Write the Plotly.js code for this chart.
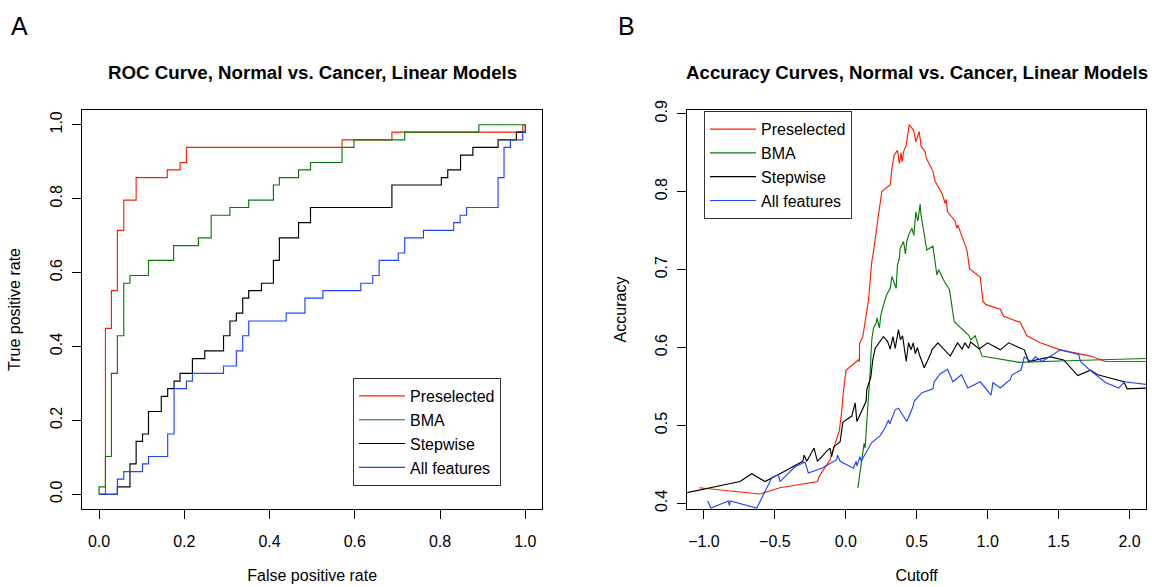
<!DOCTYPE html>
<html>
<head>
<meta charset="utf-8">
<script src="https://cdn.plot.ly/plotly-3.0.1.min.js"></script>
<style>html,body{margin:0;padding:0;background:#fff;}#chart{width:1152px;height:587px;}</style>
</head>
<body>
<div id="chart"></div>
<script>
// ---- Panel A: ROC curves (step points: x = FPR where TPR jumps, y = TPR after jump)
const seriesNames = ["Preselected", "BMA", "Stepwise", "All features"];
const seriesColors = ["#ff1e00", "#0b7a0b", "#000000", "#1f45ff"];

const rocPreX = [0, 0.015, 0.029, 0.043, 0.058, 0.087, 0.160, 0.190, 0.205, 0.570, 0.687, 0.994, 1.0];
const rocPreY = [0, 0.449, 0.551, 0.714, 0.796, 0.857, 0.878, 0.898, 0.939, 0.959, 0.980, 1.0, 1.0];

const rocBmaX = [0, 0, 0.015, 0.029, 0.043, 0.058, 0.0725, 0.116, 0.175, 0.233, 0.263, 0.307, 0.351, 0.409, 0.423, 0.468, 0.496, 0.570, 0.598, 0.717, 0.891, 1.0];
const rocBmaY = [0, 0.020, 0.102, 0.327, 0.429, 0.571, 0.592, 0.633, 0.673, 0.694, 0.755, 0.776, 0.796, 0.837, 0.857, 0.878, 0.898, 0.939, 0.959, 0.980, 1.0, 1.0];

const rocStepX = [0, 0.043, 0.0725, 0.087, 0.102, 0.116, 0.146, 0.161, 0.176, 0.190, 0.219, 0.248, 0.292, 0.307, 0.322, 0.337, 0.351, 0.381, 0.409, 0.423, 0.468, 0.496, 0.687, 0.803, 0.818, 0.848, 0.877, 0.936, 0.979, 1.0];
const rocStepY = [0, 0.020, 0.082, 0.143, 0.163, 0.224, 0.265, 0.286, 0.306, 0.327, 0.367, 0.388, 0.429, 0.469, 0.490, 0.531, 0.551, 0.571, 0.633, 0.694, 0.735, 0.776, 0.837, 0.857, 0.878, 0.918, 0.939, 0.959, 0.980, 1.0];

const rocAllX = [0, 0.043, 0.058, 0.102, 0.116, 0.161, 0.176, 0.205, 0.219, 0.292, 0.322, 0.337, 0.351, 0.439, 0.483, 0.525, 0.614, 0.642, 0.657, 0.702, 0.717, 0.761, 0.832, 0.847, 0.862, 0.936, 0.950, 0.965, 0.994, 1.0];
const rocAllY = [0, 0.041, 0.061, 0.082, 0.102, 0.163, 0.286, 0.306, 0.327, 0.347, 0.388, 0.429, 0.469, 0.490, 0.531, 0.551, 0.571, 0.592, 0.633, 0.653, 0.694, 0.714, 0.735, 0.755, 0.776, 0.857, 0.939, 0.959, 0.980, 1.0];

// ---- Panel B: accuracy vs cutoff
const accPreX = [-1.033, -0.606, -0.464, -0.2, -0.186, -0.111, -0.092, -0.045, -0.028, -0.017, 0.002, 0.089, 0.096, 0.097, 0.12, 0.141, 0.16, 0.183, 0.195, 0.23, 0.254, 0.313, 0.325, 0.341, 0.364, 0.378, 0.39, 0.397, 0.407, 0.426, 0.447, 0.477, 0.494, 0.517, 0.531, 0.56, 0.567, 0.614, 0.63, 0.677, 0.70, 0.707, 0.717, 0.771, 0.783, 0.79, 0.83, 0.854, 0.872, 0.948, 0.967, 0.988, 1.089, 1.112, 1.23, 1.277, 1.371, 1.512, 1.724, 1.83, 2.15];
const accPreY = [0.420, 0.412, 0.420, 0.428, 0.435, 0.456, 0.467, 0.494, 0.520, 0.544, 0.571, 0.584, 0.582, 0.605, 0.614, 0.642, 0.661, 0.710, 0.723, 0.770, 0.800, 0.809, 0.830, 0.847, 0.853, 0.836, 0.850, 0.838, 0.851, 0.860, 0.886, 0.879, 0.864, 0.877, 0.858, 0.851, 0.843, 0.826, 0.813, 0.798, 0.785, 0.790, 0.774, 0.762, 0.753, 0.757, 0.738, 0.725, 0.701, 0.690, 0.659, 0.655, 0.649, 0.640, 0.632, 0.615, 0.606, 0.597, 0.589, 0.582, 0.582];

const accBmaX = [0.085, 0.129, 0.136, 0.153, 0.171, 0.183, 0.195, 0.214, 0.219, 0.237, 0.247, 0.273, 0.289, 0.313, 0.325, 0.355, 0.364, 0.378, 0.383, 0.407, 0.42, 0.43, 0.442, 0.466, 0.48, 0.494, 0.508, 0.524, 0.53, 0.571, 0.614, 0.642, 0.654, 0.694, 0.731, 0.764, 0.865, 0.882, 0.912, 0.96, 1.218, 1.56, 2.15];
const accBmaY = [0.420, 0.477, 0.471, 0.512, 0.567, 0.610, 0.625, 0.631, 0.638, 0.625, 0.642, 0.659, 0.668, 0.676, 0.691, 0.676, 0.706, 0.715, 0.727, 0.736, 0.720, 0.736, 0.744, 0.753, 0.744, 0.774, 0.762, 0.784, 0.770, 0.725, 0.730, 0.693, 0.700, 0.685, 0.674, 0.633, 0.616, 0.610, 0.615, 0.589, 0.581, 0.583, 0.586];

const accStepX = [-1.17, -0.746, -0.663, -0.57, -0.464, -0.303, -0.294, -0.275, -0.224, -0.2, -0.134, -0.111, -0.1, -0.083, -0.04, -0.021, 0.042, 0.066, 0.078, 0.143, 0.148, 0.176, 0.19, 0.207, 0.265, 0.294, 0.313, 0.332, 0.348, 0.371, 0.385, 0.4, 0.426, 0.442, 0.46, 0.475, 0.49, 0.505, 0.52, 0.553, 0.6, 0.607, 0.649, 0.736, 0.788, 0.82, 0.84, 0.865, 0.88, 0.941, 0.999, 1.089, 1.148, 1.258, 1.289, 1.442, 1.536, 1.635, 1.724, 1.776, 1.96, 1.983, 2.15];
const accStepY = [0.412, 0.428, 0.438, 0.428, 0.438, 0.454, 0.462, 0.454, 0.471, 0.454, 0.467, 0.471, 0.460, 0.473, 0.479, 0.504, 0.512, 0.529, 0.505, 0.531, 0.546, 0.562, 0.584, 0.599, 0.614, 0.608, 0.598, 0.614, 0.599, 0.623, 0.610, 0.615, 0.582, 0.606, 0.597, 0.606, 0.592, 0.600, 0.590, 0.574, 0.593, 0.597, 0.606, 0.589, 0.606, 0.598, 0.606, 0.599, 0.607, 0.598, 0.606, 0.597, 0.606, 0.597, 0.582, 0.588, 0.584, 0.564, 0.571, 0.565, 0.556, 0.547, 0.548];

const accAllX = [-0.974, -0.951, -0.828, -0.82, -0.815, -0.628, -0.57, -0.522, -0.475, -0.464, -0.358, -0.287, -0.264, -0.17, -0.064, -0.059, -0.04, 0.054, 0.073, 0.078, 0.1, 0.108, 0.183, 0.242, 0.277, 0.301, 0.31, 0.332, 0.348, 0.371, 0.43, 0.473, 0.482, 0.536, 0.614, 0.623, 0.665, 0.717, 0.755, 0.815, 0.86, 0.948, 1.024, 1.037, 1.089, 1.16, 1.171, 1.235, 1.258, 1.305, 1.336, 1.383, 1.512, 1.642, 1.654, 1.72, 1.83, 1.924, 1.964, 2.15];
const accAllY = [0.403, 0.394, 0.403, 0.397, 0.403, 0.394, 0.415, 0.433, 0.437, 0.428, 0.447, 0.453, 0.439, 0.445, 0.456, 0.462, 0.454, 0.445, 0.454, 0.448, 0.460, 0.454, 0.478, 0.487, 0.497, 0.507, 0.502, 0.512, 0.520, 0.522, 0.505, 0.524, 0.531, 0.542, 0.547, 0.556, 0.566, 0.572, 0.556, 0.565, 0.548, 0.556, 0.539, 0.555, 0.548, 0.559, 0.565, 0.571, 0.588, 0.582, 0.588, 0.582, 0.597, 0.591, 0.582, 0.571, 0.555, 0.548, 0.556, 0.552];

const rocXs = [rocPreX, rocBmaX, rocStepX, rocAllX];
const rocYs = [rocPreY, rocBmaY, rocStepY, rocAllY];
const accXs = [accPreX, accBmaX, accStepX, accAllX];
const accYs = [accPreY, accBmaY, accStepY, accAllY];

const FONT = "Liberation Sans, Arial, Helvetica, sans-serif";
const traces = [];
for (let i = 0; i < 4; i++) {
  traces.push({
    type: "scatter", mode: "lines", x: rocXs[i], y: rocYs[i], name: seriesNames[i],
    line: {color: seriesColors[i], width: 1.15, shape: "hv"},
    xaxis: "x", yaxis: "y", legend: "legend", hoverinfo: "x+y"
  });
}
for (let i = 0; i < 4; i++) {
  traces.push({
    type: "scatter", mode: "lines", x: accXs[i], y: accYs[i], name: seriesNames[i],
    line: {color: seriesColors[i], width: 1.15},
    xaxis: "x2", yaxis: "y2", legend: "legend2", hoverinfo: "x+y"
  });
}

const axisBase = {
  showline: true, linecolor: "#000", linewidth: 1, mirror: true,
  ticks: "outside", ticklen: 9, tickcolor: "#000", tickwidth: 1,
  showgrid: false, zeroline: false,
  tickfont: {family: FONT, size: 16, color: "#000"},
  title: {font: {family: FONT, size: 16, color: "#000"}}
};
function ax(extra) {
  const a = JSON.parse(JSON.stringify(axisBase));
  for (const k in extra) {
    if (k === "title") a.title = Object.assign(a.title, extra.title);
    else a[k] = extra[k];
  }
  return a;
}

const legendBase = {
  bgcolor: "#fff", bordercolor: "#333", borderwidth: 1,
  font: {family: FONT, size: 16, color: "#000"},
  xanchor: "left", yanchor: "top", tracegroupgap: 0, itemwidth: 46
};

const layout = {
  width: 1152, height: 587,
  margin: {l: 82, r: 6, t: 110, b: 78},
  paper_bgcolor: "#fff", plot_bgcolor: "#fff",
  font: {family: FONT, color: "#000"},
  showlegend: true,
  xaxis: ax({domain: [0, 0.4327], range: [-0.04, 1.04], tickvals: [0, 0.2, 0.4, 0.6, 0.8, 1.0], tickformat: ".1f",
    ticklabelstandoff: 9, title: {text: "False positive rate", standoff: 20}}),
  yaxis: ax({domain: [0, 1], range: [-0.04, 1.04], tickvals: [0, 0.2, 0.4, 0.6, 0.8, 1.0], tickformat: ".1f", tickangle: -90,
    ticklabelstandoff: 4, title: {text: "True positive rate", standoff: 22}}),
  xaxis2: ax({anchor: "y2", domain: [0.5688, 1], range: [-1.118, 2.116], tickvals: [-1, -0.5, 0, 0.5, 1, 1.5, 2], tickformat: ".1f",
    ticklabelstandoff: 9, title: {text: "Cutoff", standoff: 20}}),
  yaxis2: ax({anchor: "x2", domain: [0, 1], range: [0.3928, 0.9047], tickvals: [0.4, 0.5, 0.6, 0.7, 0.8, 0.9], tickformat: ".1f", tickangle: -90,
    ticklabelstandoff: 4, title: {text: "Accuracy", standoff: 22}}),
  legend: Object.assign({}, legendBase, {x: 0.2547, y: 0.3283}),
  legend2: Object.assign({}, legendBase, {x: 0.5846, y: 0.997}),
  annotations: [
    {text: "<b>ROC Curve, Normal vs. Cancer, Linear Models</b>", xref: "paper", yref: "paper", x: 0.2166, y: 1.095,
     xanchor: "center", yanchor: "middle", showarrow: false, font: {family: FONT, size: 18.7, color: "#000"}},
    {text: "<b>Accuracy Curves, Normal vs. Cancer, Linear Models</b>", xref: "paper", yref: "paper", x: 0.7844, y: 1.095,
     xanchor: "center", yanchor: "middle", showarrow: false, font: {family: FONT, size: 18.7, color: "#000"}},
    {text: "A", xref: "paper", yref: "paper", x: -0.0583, y: 1.2105, xanchor: "center", yanchor: "middle",
     showarrow: false, font: {family: FONT, size: 25, color: "#000"}},
    {text: "B", xref: "paper", yref: "paper", x: 0.5122, y: 1.2105, xanchor: "center", yanchor: "middle",
     showarrow: false, font: {family: FONT, size: 25, color: "#000"}}
  ]
};

Plotly.newPlot("chart", traces, layout, {displayModeBar: false, staticPlot: true});
</script>
</body>
</html>
